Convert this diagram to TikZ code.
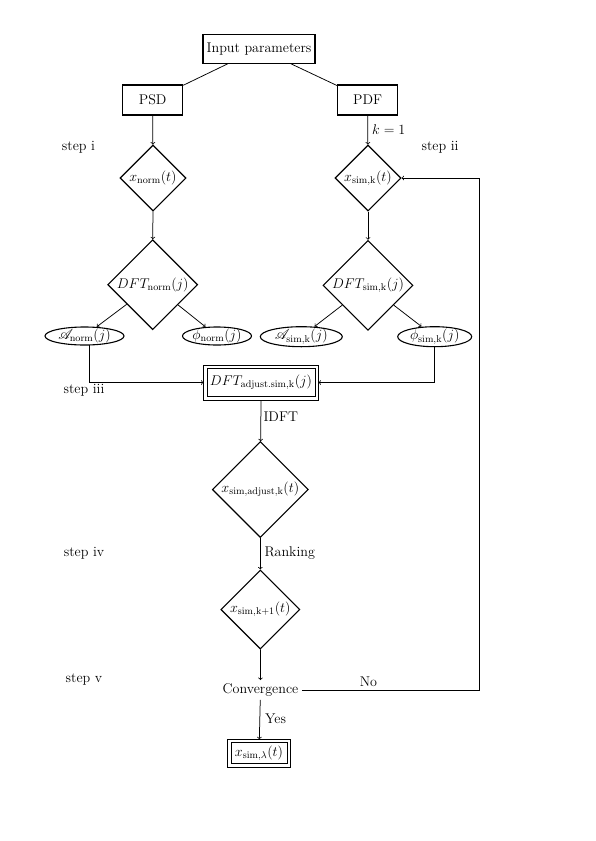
\RequirePackage{fix-cm}
\documentclass[tikz,border=0pt]{standalone}
\usepackage{amsmath}
\usepackage{mathrsfs}
\usetikzlibrary{shapes.geometric}
\begin{document}
\begin{tikzpicture}[x=1pt,y=-1pt,
  font=\fontsize{14.1}{17}\selectfont,
  rbox/.style={draw, line width=1.1pt, inner sep=0pt},
  dia/.style={diamond, draw, line width=1.1pt, inner sep=0pt, aspect=1},
  dbox/.style={draw, line width=1pt, inner sep=0pt},
  outerbox/.style={draw, line width=1pt},
  etext/.style={inner sep=0pt, minimum height=18pt},
  ell/.style={line width=1.1pt},
  conn/.style={line width=0.75pt},
  arr/.style={conn, ->},
  lbl/.style={inner sep=0pt, anchor=west},
  steplbl/.style={inner sep=0pt}]
\useasboundingbox (0,0) rectangle (595,841);
% boxes
\node[rbox, minimum width=112pt, minimum height=29pt] (input) at (259,48.7) {Input parameters};
\node[rbox, minimum width=60pt, minimum height=30pt] (psd) at (152.7,100) {PSD};
\node[rbox, minimum width=60pt, minimum height=30pt] (pdf) at (367.7,100) {PDF};
% diamonds
\node[dia, minimum width=66pt, minimum height=66pt] (xnorm) at (153,178) {$x_{\mathrm{norm}}(t)$};
\node[dia, minimum width=66pt, minimum height=66pt] (xsimk) at (368,178) {$x_{\mathrm{sim,k}}(t)$};
\node[dia, minimum width=90pt, minimum height=90pt] (dftn) at (152.7,284.7) {$DFT_{\mathrm{norm}}(j)$};
\node[dia, minimum width=90pt, minimum height=90pt] (dfts) at (368,285.3) {$DFT_{\mathrm{sim,k}}(j)$};
% ellipses
\node[etext, minimum width=79pt] (anorm) at (84.5,336) {$\mathscr{A}_{\mathrm{norm}}(j)$};
\draw[ell] (anorm.center) ellipse [x radius=39.5pt, y radius=9pt];
\node[etext, minimum width=69pt] (phin) at (217,336) {$\phi_{\mathrm{norm}}(j)$};
\draw[ell] (phin.center) ellipse [x radius=34.5pt, y radius=9pt];
\node[etext, minimum width=82pt, minimum height=20pt] (asimk) at (301.3,336.7) {$\mathscr{A}_{\mathrm{sim,k}}(j)$};
\draw[ell] (asimk.center) ellipse [x radius=41pt, y radius=10pt];
\node[etext, minimum width=74pt, minimum height=20pt] (phis) at (434.7,336.7) {$\phi_{\mathrm{sim,k}}(j)$};
\draw[ell] (phis.center) ellipse [x radius=37pt, y radius=10pt];
% middle column
\node[dbox, minimum width=108pt, minimum height=28pt] (adj) at (261,382.5) {$DFT_{\mathrm{adjust.sim,k}}(j)$};
\draw[outerbox] ([shift={(-3pt,3pt)}]adj.north west) rectangle ([shift={(3pt,-3pt)}]adj.south east);
\node[dia, minimum width=96pt, minimum height=96pt] (xadj) at (260.3,489.5) {$x_{\mathrm{sim,adjust,k}}(t)$};
\node[dia, minimum width=79pt, minimum height=79pt] (xk1) at (260.3,609.5) {$x_{\mathrm{sim,k+1}}(t)$};
\node (conv) at (260.5,690) {Convergence};
\node[dbox, minimum width=56pt, minimum height=21pt] (lam) at (259,753.3) {$x_{\mathrm{sim},\lambda}(t)$};
\draw[outerbox] ([shift={(-3pt,3pt)}]lam.north west) rectangle ([shift={(3pt,-3pt)}]lam.south east);
% step labels
\node[steplbl] (s1) at (78.5,147) {step i};
\node[steplbl] (s2) at (440,147) {step ii};
\node[steplbl] (s3) at (84,390) {step iii};
\node[steplbl] (s4) at (84,553) {step iv};
\node[steplbl] (s5) at (84,680) {step v};
% edge labels
\node[lbl] (k1) at (372,130) {$k=1$};
\node[lbl] (idft) at (263.3,416.7) {IDFT};
\node[lbl] (rank) at (264.3,553) {Ranking};
\node[lbl] (yes) at (265,719) {Yes};
\node[steplbl] (no) at (368.4,682) {No};
% connectors
\draw[conn] (input) -- (psd);
\draw[conn] (input) -- (pdf);
\draw[arr] (psd) -- (xnorm);
\draw[arr] (pdf) -- (xsimk);
\draw[arr] (xnorm) -- (dftn);
\draw[arr] (xsimk) -- (dfts);
\draw[arr] (dftn) -- (anorm);
\draw[arr] (dftn) -- (phin);
\draw[arr] (dfts) -- (asimk);
\draw[arr] (dfts) -- (phis);
\draw[arr, shorten >=3pt] ([xshift=5pt]anorm.south) |- (adj.west);
\draw[arr, shorten >=3pt] (phis.south) |- (adj.east);
\draw[conn] (adj.south) ++(0,-3pt) coordinate (adjs);
\draw[arr] (adjs) -- (xadj);
\draw[arr] (xadj) -- (xk1);
\draw[arr] (xk1) -- (conv);
\draw[arr, shorten >=3pt] (conv) -- (lam);
\coordinate (fb) at (479.3,690);
\draw[arr] (conv.east) -- (fb) |- (xsimk.east);
\end{tikzpicture}
\end{document}
